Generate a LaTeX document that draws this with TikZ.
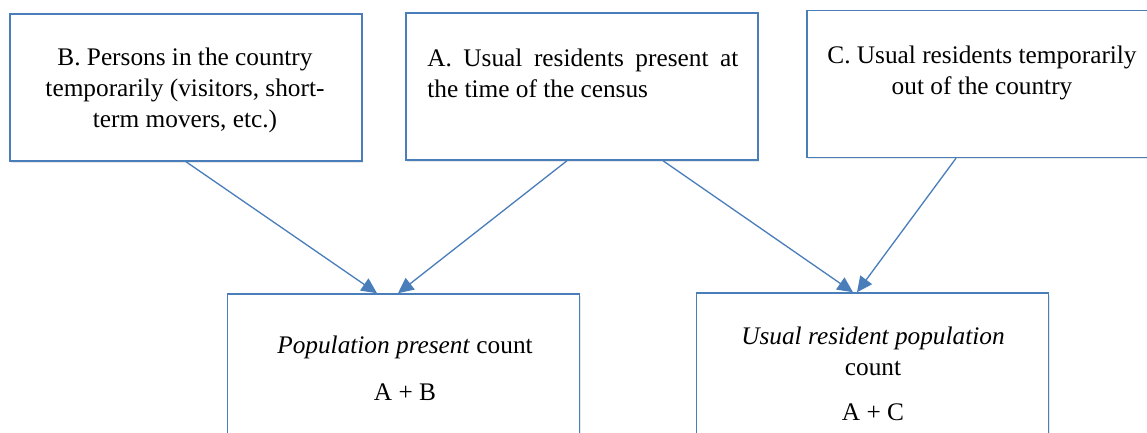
\documentclass[tikz,border=0pt]{standalone}
\usepackage{fontspec}
\setmainfont{LiberationSerif}[Extension=.ttf,UprightFont=*-Regular,ItalicFont=*-Italic,BoldFont=*-Bold,BoldItalicFont=*-BoldItalic]
\usetikzlibrary{arrows.meta,shadows}
\definecolor{lineblue}{HTML}{4A7EBB}
\tikzset{
  box/.style={draw=lineblue,fill=white,line width=0.85pt,minimum width=7.04cm,minimum height=2.94cm,
    drop shadow={opacity=0.18,shadow xshift=0.7pt,shadow yshift=-0.9pt}},
  boxtext/.style={font=\fontsize{14.4}{17.6}\selectfont,inner sep=0pt},
  arr/.style={-{Triangle[length=3.1mm,width=2.9mm]},draw=lineblue,line width=0.75pt}
}

\begin{document}
\begin{tikzpicture}[x=1cm,y=1cm]
\path[use as bounding box] (0,0) rectangle (22.94,8.66);
\clip (0,0) rectangle (22.94,8.66);
% top row
\node[box] (boxB) at (3.72,6.91) {};
\node[box] (boxA) at (11.64,6.93) {};
\node[box] (boxC) at (19.66,6.98) {};
\node[boxtext,align=center] (textB) at (3.70,6.86) {B. Persons in the country\\temporarily (visitors, short-\\term movers, etc.)};
\node[boxtext,text width=6.22cm,align=justify,anchor=north west] (textA) at (8.54,7.68) {A.\ Usual residents present at the time of the census};
\node[boxtext,align=center] (textC) at (19.64,7.21) {C. Usual residents temporarily\\out of the country};
% bottom row
\node[box] (present) at (8.07,1.31) {};
\node[box] (usual) at (17.45,1.33) {};
\node[boxtext,align=center] (textpresent) at (8.10,1.29) {\textit{Population present} count\\[9pt]A + B};
\node[boxtext,align=center] (textusual) at (17.46,1.19) {\textit{Usual resident population}\\count\\[8pt]A + C};
% arrows
\draw[arr] (boxB.south) -- ([xshift=-0.53cm]present.north);
\draw[arr] ([xshift=-0.30cm]boxA.south) -- ([xshift=-0.11cm]present.north);
\draw[arr] ([xshift=1.62cm]boxA.south) -- ([xshift=-0.39cm]usual.north);
\draw[arr] ([xshift=-0.54cm]boxC.south) -- ([xshift=-0.31cm]usual.north);
\end{tikzpicture}
\end{document}
